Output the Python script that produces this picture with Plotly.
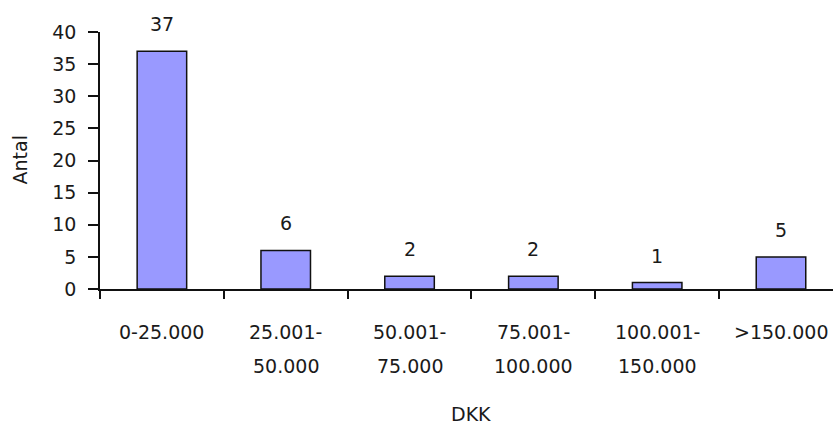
import plotly.graph_objects as go

# Number of cases per amount interval (DKK)
categories = ["0-25.000", "25.001-50.000", "50.001-75.000",
              "75.001-100.000", "100.001-150.000", ">150.000"]
label_lines = [["0-25.000"], ["25.001-", "50.000"], ["50.001-", "75.000"],
               ["75.001-", "100.000"], ["100.001-", "150.000"], [">150.000"]]
counts = [37, 6, 2, 2, 1, 5]
y_ticks = [0, 5, 10, 15, 20, 25, 30, 35, 40]

FONT = "DejaVu Sans"
SIZE = 19
TEXT = "#1a1a1a"

fig = go.Figure()
fig.add_trace(go.Bar(
    x=categories,
    y=counts,
    width=0.4,
    marker=dict(color="#9999FF", line=dict(color="#111111", width=1.5)),
    hoverinfo="x+y",
))

annotations = []
# value labels above the bars
for cat, val in zip(categories, counts):
    annotations.append(dict(
        x=cat, y=val, xref="x", yref="y", text=str(val), showarrow=False,
        xanchor="center", yanchor="middle",
        yshift=27, font=dict(family=FONT, size=SIZE, color=TEXT),
    ))
# category labels, one annotation per line for wider line spacing
for cat, lines in zip(categories, label_lines):
    for i, line in enumerate(lines):
        annotations.append(dict(
            x=cat, y=0, xref="x", yref="y", text=line, showarrow=False,
            xanchor="center", yanchor="middle",
            yshift=-43 - 34 * i, font=dict(family=FONT, size=SIZE, color=TEXT),
        ))
# axis titles
annotations.append(dict(
    x=2.5, y=0, xref="x", yref="paper", text="DKK", showarrow=False,
    xanchor="center", yanchor="middle",
    yshift=-125, font=dict(family=FONT, size=SIZE, color=TEXT),
))
annotations.append(dict(
    x=0, y=0.5, xref="paper", yref="paper", text="Antal", showarrow=False,
    xanchor="center", yanchor="middle",
    xshift=-81, textangle=-90, font=dict(family=FONT, size=SIZE, color=TEXT),
))

fig.update_layout(
    width=833, height=430,
    margin=dict(l=100, r=0, t=32, b=141),
    paper_bgcolor="white", plot_bgcolor="white",
    showlegend=False,
    annotations=annotations,
    font=dict(family=FONT, size=SIZE, color=TEXT),
)
fig.update_xaxes(
    type="category",
    range=[-0.5, 5.42],
    showticklabels=False,
    tickson="boundaries",
    ticks="outside", ticklen=8, tickwidth=1.5, tickcolor="#111111",
    showline=True, linecolor="#111111", linewidth=1.5,
    showgrid=False, zeroline=False,
)
fig.update_yaxes(
    range=[0, 40],
    tickvals=y_ticks,
    ticks="outside", ticklen=10, tickwidth=1.5, tickcolor="#111111",
    ticklabelstandoff=8,
    showline=True, linecolor="#111111", linewidth=1.5,
    showgrid=False, zeroline=False,
    tickfont=dict(family=FONT, size=SIZE, color=TEXT),
)

fig.write_html("out.html")
